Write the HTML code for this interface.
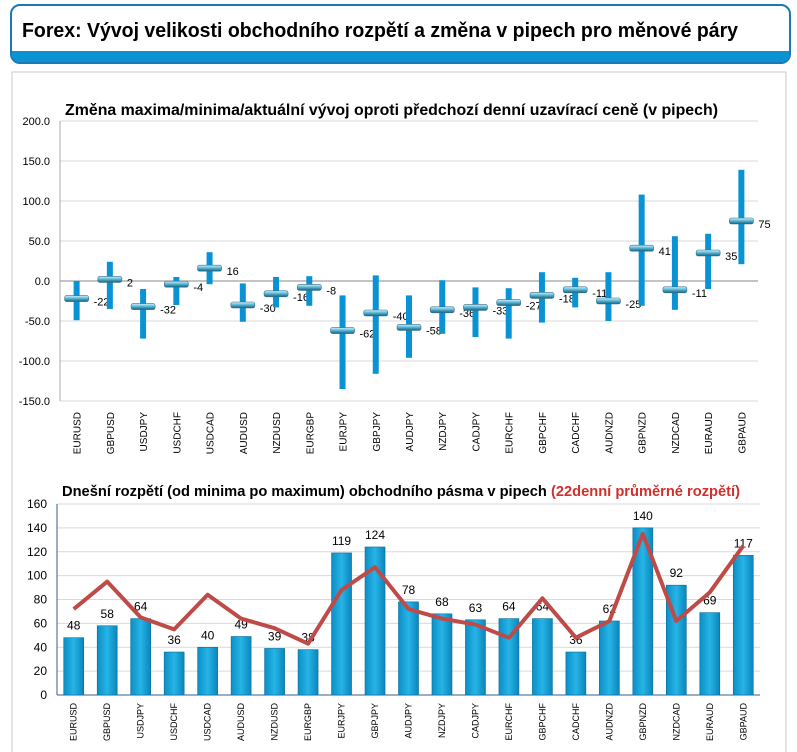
<!DOCTYPE html>
<html><head><meta charset="utf-8"><style>
body{margin:0;background:#fff;font-family:"Liberation Sans",sans-serif;}
svg{display:block}
</style></head><body>
<svg id="s" width="797" height="752">
<defs>
<linearGradient id="bar" x1="0" x2="1"><stop offset="0" stop-color="#0b8fc6"/><stop offset="0.5" stop-color="#27b4e6"/><stop offset="1" stop-color="#0a86bb"/></linearGradient>
<linearGradient id="mk" x1="0" y1="0" x2="0" y2="1"><stop offset="0" stop-color="#d6f0f8"/><stop offset="0.5" stop-color="#4fb3d6"/><stop offset="1" stop-color="#1b5f7a"/></linearGradient>
</defs>
<g>
<rect x="11" y="5" width="779" height="58" rx="9" fill="#fff" stroke="#1a78b8" stroke-width="2"/>
<path d="M12 51 H789 V54 Q789 62 781 62 H20 Q12 62 12 54 Z" fill="#0a93d0"/>
<text x="22" y="37" font-size="20" font-weight="bold" fill="#000" textLength="716" lengthAdjust="spacingAndGlyphs">Forex: Vývoj velikosti obchodního rozpětí a změna v pipech pro měnové páry</text>
</g>
<rect x="12" y="72" width="774" height="690" fill="#fff" stroke="#c8c8c8"/>
<text x="65" y="115" font-size="16" font-weight="bold" textLength="653" lengthAdjust="spacingAndGlyphs">Změna maxima/minima/aktuální vývoj oproti předchozí denní uzavírací ceně (v pipech)</text>
<text x="62" y="496" font-size="15" font-weight="bold" textLength="678" lengthAdjust="spacingAndGlyphs">Dnešní rozpětí (od minima po maximum) obchodního pásma v pipech <tspan fill="#d0302c">(22denní průměrné rozpětí)</tspan></text>
<g id="top"></g><g id="bot"></g>
</svg>
<script>
const pairs=["EURUSD","GBPUSD","USDJPY","USDCHF","USDCAD","AUDUSD","NZDUSD","EURGBP","EURJPY","GBPJPY","AUDJPY","NZDJPY","CADJPY","EURCHF","GBPCHF","CADCHF","AUDNZD","GBPNZD","NZDCAD","EURAUD","GBPAUD"];
const highs=[0,24,-10,5,36,-3,5,6,-18,7,-18,1,-8,-9,11,4,11,108,56,59,139];
const lows=[-49,-35,-72,-30,-4,-51,-33,-31,-135,-116,-96,-66,-70,-72,-52,-33,-50,-31,-36,-10,21];
const current=[-22,2,-32,-4,16,-30,-16,-8,-62,-40,-58,-36,-33,-27,-18,-11,-25,41,-11,35,75];
const topTicks=[200,150,100,50,0,-50,-100,-150];
const ranges=[48,58,64,36,40,49,39,38,119,124,78,68,63,64,64,36,62,140,92,69,117];
const avg22=[72,95,65,55,84,64,56,43,88,107,72,64,59,48,81,48,62,135,62,86,125];
const botTicks=[0,20,40,60,80,100,120,140,160];
const NS="http://www.w3.org/2000/svg";
function el(p,t,a,txt){const e=document.createElementNS(NS,t);for(const k in a)e.setAttribute(k,a[k]);if(txt!==undefined)e.textContent=txt;p.appendChild(e);return e;}
const T=document.getElementById('top');
const tx0=60,tx1=758,ty=v=>281-v*0.8,tstep=(tx1-tx0)/pairs.length,tx=i=>tx0+tstep*(i+0.5);
topTicks.forEach(v=>{
const g=el(T,'line',{x1:tx0,x2:tx1,y1:ty(v),y2:ty(v),stroke:v===0?'#888':'#d9d9d9'});


const t=el(T,'text',{x:tx0-10,y:ty(v)+4,'font-size':11,'text-anchor':'end'},v.toFixed(1));


});
el(T,'line',{x1:tx0,x2:tx0,y1:ty(200),y2:ty(-150),stroke:'#aaa'});
pairs.forEach((p,i)=>{
const x=tx(i);
const r=el(T,'rect',{x:x-3,y:ty(highs[i]),width:6,height:ty(lows[i])-ty(highs[i]),fill:'#0a93d4'});


const m=el(T,'rect',{x:x-12,y:ty(current[i])-3,width:24,height:6,rx:2,fill:'url(#mk)',stroke:'#3a6f80','stroke-width':0.6});


const l=el(T,'text',{x:x+17,y:ty(current[i])+7,'font-size':11},String(current[i]));


const xl=el(T,'text',{x:0,y:0,'font-size':10,'text-anchor':'end',transform:`translate(${x+4},412) rotate(-90)`},p);


});
const B=document.getElementById('bot');
const bx0=57,bx1=760,by=v=>695-v*1.19375,bstep=(bx1-bx0)/pairs.length,bx=i=>bx0+bstep*(i+0.5);
botTicks.forEach(v=>{
const g=el(B,'line',{x1:bx0,x2:bx1,y1:by(v),y2:by(v),stroke:'#d9d9d9'});


const t=el(B,'text',{x:bx0-10,y:by(v)+4,'font-size':12,'text-anchor':'end'},String(v));


});
el(B,'line',{x1:bx0,x2:bx0,y1:by(160),y2:by(0),stroke:'#3b5d8a'});
el(B,'line',{x1:bx0,x2:bx1,y1:by(0),y2:by(0),stroke:'#3b5d8a'});
pairs.forEach((p,i)=>{
const x=bx(i);
const r=el(B,'rect',{x:x-10,y:by(ranges[i]),width:20,height:by(0)-by(ranges[i]),fill:'url(#bar)',stroke:'#0a6d99','stroke-width':0.6});


const l=el(B,'text',{x:x,y:by(ranges[i])-8,'font-size':12,'text-anchor':'middle'},String(ranges[i]));


const xl=el(B,'text',{x:0,y:0,'font-size':9,'text-anchor':'end',transform:`translate(${x+3},703) rotate(-90)`},p);


});
const pl=el(B,'polyline',{points:avg22.map((v,i)=>bx(i)+','+by(v)).join(' '),fill:'none',stroke:'#be4b48','stroke-width':4,'stroke-linejoin':'round'});


</script>
</body></html>
